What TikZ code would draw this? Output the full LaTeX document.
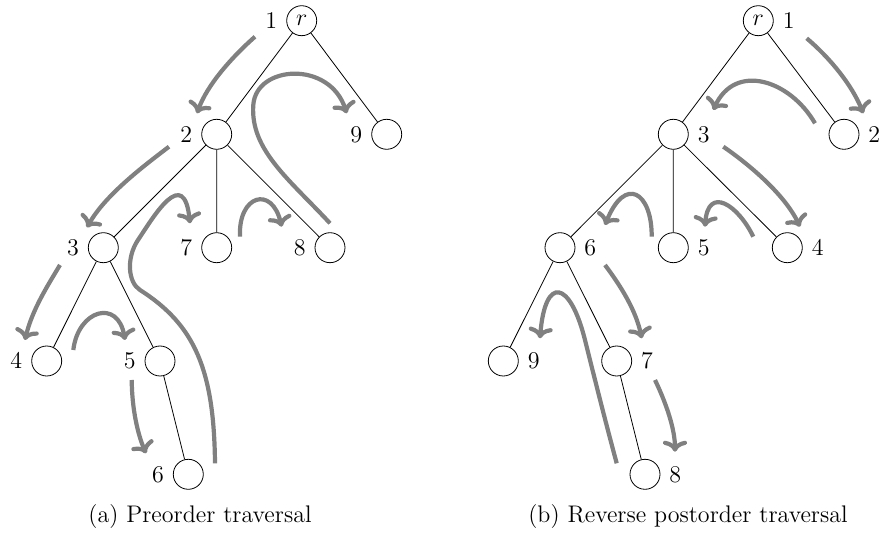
\documentclass[tikz,border=0pt]{standalone}
\usetikzlibrary{arrows.meta}
\begin{document}
\begin{tikzpicture}[x=0.5pt,y=-0.5pt,
  every node/.style={font=\fontsize{12}{14}\selectfont},
  vtx/.style={circle,draw,minimum size=15pt,inner sep=0pt},
  every label/.style={inner sep=3.33pt,font=\fontsize{12}{14}\selectfont},
  label distance=1pt,
  edge/.style={line width=0.4pt},
  trav/.style={draw=gray,line width=2.1pt,-{Computer Modern Rightarrow[length=5.5pt,width=12pt]}}]
\useasboundingbox (0,0) rectangle (879,534);
% ---------- (a) preorder ----------
\node[vtx,label=left:$1$] (ar) at (301.7,20.7) {$r$};
\node[vtx,label=left:$2$] (a2) at (216.7,134.3) {};
\node[vtx,label=left:$9$] (a9) at (386.7,134.3) {};
\node[vtx,label=left:$3$] (a3) at (103.3,247.7) {};
\node[vtx,label=left:$7$] (a7) at (216.7,247.7) {};
\node[vtx,label=left:$8$] (a8) at (330,247.7) {};
\node[vtx,label=left:$4$] (a4) at (46.7,361) {};
\node[vtx,label=left:$5$] (a5) at (160,361) {};
\node[vtx,label=left:$6$] (a6) at (188.3,474.3) {};
\draw[edge] (ar)--(a2) (ar)--(a9) (a2)--(a3) (a2)--(a7) (a2)--(a8)
  (a3)--(a4) (a3)--(a5) (a5)--(a6);
\draw[trav] (255,36.7) .. controls (232,57) and (207,85) .. (197,113.3);
\draw[trav] (330,223.3) .. controls (290,180) and (250,150) .. (253.3,105)
  .. controls (256,65) and (330,60) .. (346.7,113.3);
\draw[trav] (169,146.7) .. controls (145,165) and (105,195) .. (87,227.5);
\draw[trav] (215,463.3) .. controls (214,370) and (195,325) .. (140,290)
  .. controls (128,282.4) and (126,258) .. (138,240)
  .. controls (154,216) and (184,165) .. (190,223.3);
\draw[trav] (240,236.7) .. controls (238,195) and (272,185) .. (281.7,226.7);
\draw[trav] (60,265) .. controls (48,285) and (32,310) .. (25,340);
\draw[trav] (73.3,350) .. controls (78,310) and (118,298) .. (125,340);
\draw[trav] (131.7,380) .. controls (132,410) and (138,435) .. (146,453.3);
\node (capa) at (200,517) {(a) Preorder traversal};
% ---------- (b) reverse postorder ----------
\node[vtx,label=right:$1$] (br) at (758.3,20.7) {$r$};
\node[vtx,label=right:$3$] (b3) at (673.3,134.3) {};
\node[vtx,label=right:$2$] (b2) at (844,134.3) {};
\node[vtx,label=right:$6$] (b6) at (560,247.7) {};
\node[vtx,label=right:$5$] (b5) at (673.3,247.7) {};
\node[vtx,label=right:$4$] (b4) at (787.3,247.7) {};
\node[vtx,label=right:$9$] (b9) at (503.3,361) {};
\node[vtx,label=right:$7$] (b7) at (616.7,361) {};
\node[vtx,label=right:$8$] (b8) at (645,474.3) {};
\draw[edge] (br)--(b3) (br)--(b2) (b3)--(b6) (b3)--(b5) (b3)--(b4)
  (b6)--(b9) (b6)--(b7) (b7)--(b8);
\draw[trav] (806.7,38.3) .. controls (830,58) and (852,85) .. (863.3,113.3);
\draw[trav] (815,123.3) .. controls (790,80) and (735,62) .. (713.3,110);
\draw[trav] (723.3,146.7) .. controls (750,165) and (785,195) .. (800,226.7);
\draw[trav] (753.3,236.7) .. controls (738,205) and (708,185) .. (705,226.7);
\draw[trav] (651.7,236.7) .. controls (652,192) and (625,175) .. (605,225);
\draw[trav] (605,265) .. controls (620,285) and (636,310) .. (641.7,338.3);
\draw[trav] (655,380) .. controls (667,405) and (675,430) .. (675,451.7);
\draw[trav] (616.7,463.3) .. controls (605,420) and (595,380) .. (585,340)
  .. controls (570,280) and (545,275) .. (540,338.3);
\node (capb) at (688,517) {(b) Reverse postorder traversal};
\end{tikzpicture}
\end{document}
